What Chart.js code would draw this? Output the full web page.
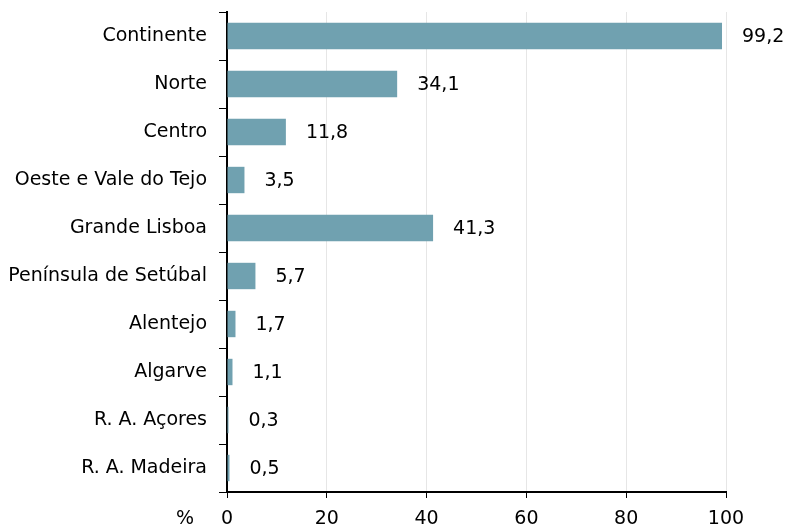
<!DOCTYPE html>
<html>
<head>
<meta charset="utf-8">
<script src="https://cdn.jsdelivr.net/npm/chart.js@4"></script>
<style>
  html, body { margin: 0; padding: 0; background: #fff; }
  #wrap { width: 791px; height: 532px; }
</style>
</head>
<body>
<div id="wrap"><canvas id="c" width="791" height="532"></canvas></div>
<script>
const regions = [
  "Continente", "Norte", "Centro", "Oeste e Vale do Tejo", "Grande Lisboa",
  "Península de Setúbal", "Alentejo", "Algarve", "R. A. Açores", "R. A. Madeira"
];
const values = [99.2, 34.1, 11.8, 3.5, 41.3, 5.7, 1.7, 1.1, 0.3, 0.5];
const xTicks = [0, 20, 40, 60, 80, 100];

const FONT = "'DejaVu Sans', sans-serif";

const fmt = v => v.toFixed(1).replace(".", ",");

// rótulos de valor à direita das barras + o "%" do eixo
const labelsPlugin = {
  id: "valueLabels",
  afterDatasetsDraw(chart) {
    const ctx = chart.ctx;
    const meta = chart.getDatasetMeta(0);
    ctx.save();
    ctx.font = `19px ${FONT}`;
    ctx.fillStyle = "#000";
    ctx.textAlign = "left";
    ctx.textBaseline = "middle";
    meta.data.forEach((bar, i) => {
      ctx.fillText(fmt(values[i]), bar.x + 20, bar.y + 1);
    });
    const xs = chart.scales.x;
    ctx.textAlign = "center";
    ctx.fillText("%", 185, xs.top + 27);
    ctx.restore();
  }
};

new Chart(document.getElementById("c"), {
  type: "bar",
  data: {
    labels: regions,
    datasets: [{
      data: values,
      backgroundColor: "#70a1b0",
      borderWidth: 0,
      barPercentage: 0.55,
      categoryPercentage: 1
    }]
  },
  options: {
    indexAxis: "y",
    responsive: false,
    animation: false,
    layout: { padding: { top: 12, right: 65, left: 0, bottom: 0 } },
    plugins: { legend: { display: false }, tooltip: { enabled: false } },
    scales: {
      x: {
        min: 0,
        max: 100,
        afterBuildTicks: s => { s.ticks = xTicks.map(v => ({ value: v })); },
        grid: { color: "#e6e6e6", lineWidth: 1, tickColor: "#000", tickLength: 6, drawOnChartArea: true },
        border: { color: "#000", width: 2 },
        ticks: { color: "#000", font: { family: FONT, size: 19 }, padding: 10 },
        afterFit: s => { s.height = 40; }
      },
      y: {
        grid: { drawOnChartArea: false, tickColor: "#000", tickLength: 8, offset: true },
        border: { color: "#000", width: 2 },
        ticks: { color: "#000", font: { family: FONT, size: 19 }, padding: 12 },
        afterFit: s => { s.width = 227; s.paddingTop = 0; s.paddingBottom = 0; }
      }
    }
  },
  plugins: [labelsPlugin]
});
</script>
</body>
</html>
